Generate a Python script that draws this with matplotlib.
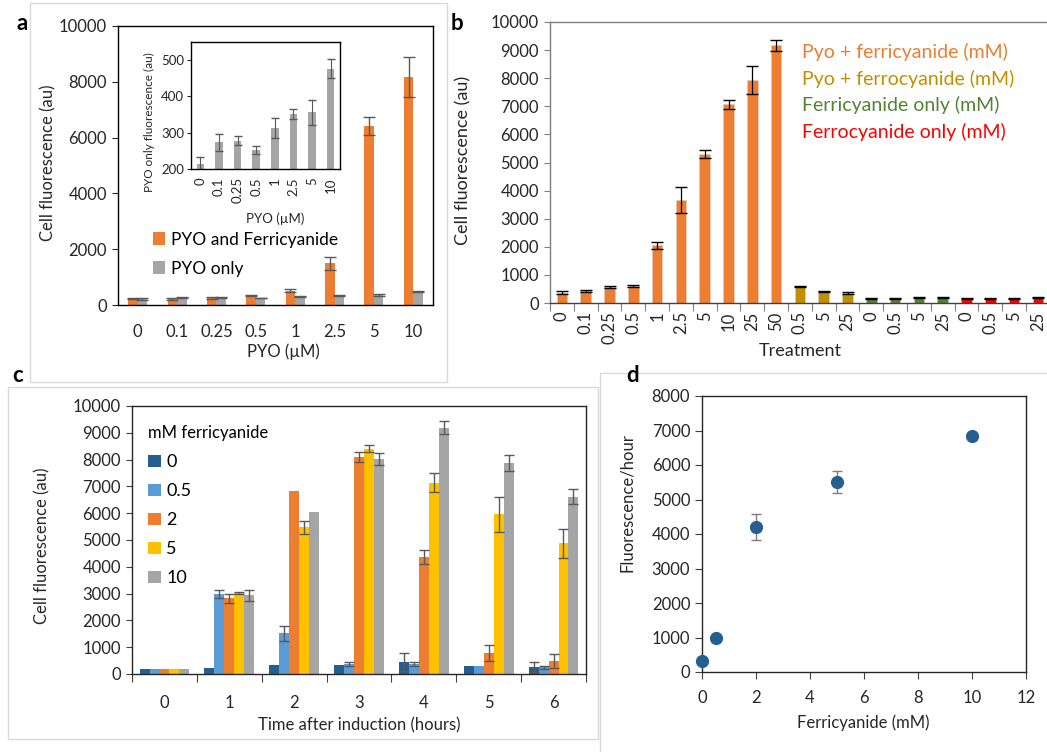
import numpy as np
import matplotlib
matplotlib.use("Agg")
import matplotlib.pyplot as plt
from matplotlib.patches import Rectangle

plt.rcParams['font.family'] = ['Lato', 'DejaVu Sans']

# ---------------- data ----------------
# (a) PYO dose response
pyo_labels = ['0', '0.1', '0.25', '0.5', '1', '2.5', '5', '10']
pyo_ferri = [230, 220, 240, 330, 510, 1490, 6420, 8160]
pyo_ferri_err = [20, 30, 40, 20, 60, 220, 320, 720]
pyo_only = [215, 273, 278, 252, 312, 350, 355, 475]
pyo_only_err = [18, 23, 13, 10, 27, 14, 34, 26]

# (b) treatments
treat_labels = ['0', '0.1', '0.25', '0.5', '1', '2.5', '5', '10', '25', '50',
                '0.5', '5', '25',
                '0', '0.5', '5', '25',
                '0', '0.5', '5', '25']
treat_group = ['ferri'] * 10 + ['ferro'] * 3 + ['ferri_only'] * 4 + ['ferro_only'] * 4
treat_vals = [360, 440, 570, 615, 2050, 3670, 5310, 7070, 7940, 9170,
              590, 400, 355,
              165, 165, 210, 200,
              165, 165, 165, 200]
treat_err = [50, 40, 40, 40, 120, 450, 150, 150, 500, 190,
             30, 10, 30,
             20, 15, 15, 20,
             20, 15, 15, 20]
treat_names = {'ferri': 'Pyo + ferricyanide (mM)',
               'ferro': 'Pyo + ferrocyanide (mM)',
               'ferri_only': 'Ferricyanide only (mM)',
               'ferro_only': 'Ferrocyanide only (mM)'}
treat_colors = {'ferri': '#ED7D31', 'ferro': '#BF9000',
                'ferri_only': '#548235', 'ferro_only': '#FF0000'}

# (c) time course
hours = ['0', '1', '2', '3', '4', '5', '6']
ferri_conc = ['0', '0.5', '2', '5', '10']
time_vals = {
    '0':   [200, 236, 335, 335, 435, 310, 275],
    '0.5': [200, 2970, 1515, 360, 360, 310, 250],
    '2':   [200, 2830, 6820, 8100, 4350, 770, 485],
    '5':   [200, 3020, 5470, 8410, 7140, 5960, 4870],
    '10':  [200, 2930, 6060, 8025, 9190, 7880, 6620],
}
time_err = {
    '0':   [0, 0, 0, 0, 340, 0, 190],
    '0.5': [0, 150, 290, 80, 80, 0, 60],
    '2':   [0, 170, 0, 200, 260, 300, 275],
    '5':   [0, 30, 240, 140, 350, 660, 550],
    '10':  [0, 190, 0, 230, 250, 310, 290],
}
conc_colors = ['#255E91', '#5B9BD5', '#ED7D31', '#FFC000', '#A5A5A5']

# (d) rate vs ferricyanide
ferri_mM = [0, 0.5, 2, 5, 10]
rate = [330, 990, 4200, 5520, 6830]
rate_err = [0, 0, 385, 320, 0]

# ---------------- figure ----------------
W, H = 1047, 752
fig = plt.figure(figsize=(W / 100, H / 100), dpi=100)
fig.patch.set_facecolor('white')

TXT = '#262626'


def px_axes(x0, y0, x1, y1):
    return fig.add_axes([x0 / W, 1 - y1 / H, (x1 - x0) / W, (y1 - y0) / H])


def ftext(x, y, s, **kw):
    return fig.text(x / W, 1 - y / H, s, **kw)


def frame(x0, y0, x1, y1):
    fig.add_artist(Rectangle((x0 / W, 1 - y1 / H), (x1 - x0) / W, (y1 - y0) / H,
                             transform=fig.transFigure, fill=False,
                             edgecolor='#D9D9D9', lw=1.0))


def style_spines(ax, color, lw=1.0):
    for s in ax.spines.values():
        s.set_color(color)
        s.set_linewidth(lw)


# panel frames
frame(30, 3, 447, 382)
frame(8, 387, 598, 739)
frame(600, 373, 1060, 770)

# ---------- (a) ----------
axa = px_axes(118, 26, 433, 305)
xa = np.arange(len(pyo_labels))
bw = 0.24
axa.bar(xa - bw / 2, pyo_ferri, bw, color='#ED7D31', label='PYO and Ferricyanide')
axa.bar(xa + bw / 2, pyo_only, bw, color='#A5A5A5', label='PYO only')
axa.errorbar(xa - bw / 2, pyo_ferri, yerr=pyo_ferri_err, fmt='none',
             ecolor='#595959', elinewidth=1, capsize=4)
axa.errorbar(xa + bw / 2, pyo_only, yerr=pyo_only_err, fmt='none',
             ecolor='#595959', elinewidth=1, capsize=4)
axa.set_xlim(-0.5, len(pyo_labels) - 0.5)
axa.set_ylim(0, 10000)
axa.set_yticks(np.arange(0, 10001, 2000))
axa.set_xticks(xa, pyo_labels)
axa.tick_params(axis='x', length=0, pad=14, labelsize=12, colors=TXT)
axa.tick_params(axis='y', length=4, direction='out', labelsize=12, colors=TXT, pad=4)
style_spines(axa, '#000000')
axa.legend(loc='upper left', bbox_to_anchor=(0.088, 0.288), frameon=False,
           fontsize=12.5, handlelength=0.7, handleheight=0.7,
           handletextpad=0.35, labelspacing=0.75, borderaxespad=0)
ftext(48, 163, 'Cell fluorescence (au)', rotation=90, ha='center', va='center',
      fontsize=12, color=TXT)
ftext(283, 352, 'PYO (µM)', ha='center', va='center', fontsize=12, color=TXT)
ftext(22, 23, 'a', ha='center', va='center', fontsize=16, fontweight='bold')

# inset
axi = px_axes(191, 42, 340, 169)
axi.bar(xa, pyo_only, 0.4, color='#A5A5A5')
axi.errorbar(xa, pyo_only, yerr=pyo_only_err, fmt='none', ecolor='#595959',
             elinewidth=0.8, capsize=3)
axi.set_xlim(-0.5, len(pyo_labels) - 0.5)
axi.set_ylim(200, 548)
axi.set_yticks([200, 300, 400, 500])
axi.set_xticks(xa, pyo_labels, rotation=90)
axi.tick_params(axis='x', length=0, pad=6, labelsize=9.5, colors=TXT)
axi.tick_params(axis='y', length=3, labelsize=9.5, colors=TXT, pad=2)
style_spines(axi, '#000000')
ftext(149, 122, 'PYO only fluorescence (au)', rotation=90, ha='center', va='center',
      fontsize=8.5, color=TXT)
ftext(275, 219, 'PYO (µM)', ha='center', va='center', fontsize=9.5, color=TXT)

# ---------- (b) ----------
nb = len(treat_labels)
axb = px_axes(550, 22, 550 + nb * 23.8, 303)
xb = np.arange(nb)
cols_b = [treat_colors[g] for g in treat_group]
axb.bar(xb, treat_vals, 0.45, color=cols_b, edgecolor='#D0D0D0', linewidth=0.4)
axb.errorbar(xb, treat_vals, yerr=treat_err, fmt='none', ecolor='#000000',
             elinewidth=0.9, capsize=4)
axb.set_xlim(-0.5, nb - 0.5)
axb.set_ylim(0, 10000)
axb.set_yticks(np.arange(0, 10001, 1000))
axb.set_xticks(np.arange(-0.5, nb, 1.0))
axb.set_xticklabels([])
axb.set_xticks(xb, treat_labels, minor=True)
axb.tick_params(axis='x', which='major', length=6, color='#7F7F7F')
axb.tick_params(axis='x', which='minor', length=0, pad=6, labelsize=12,
                labelrotation=90, colors=TXT)
axb.tick_params(axis='y', length=4, labelsize=12, colors=TXT, pad=4, color='#7F7F7F')
style_spines(axb, '#7F7F7F')
axb.spines['bottom'].set_color('#404040')
axb.spines['right'].set_visible(False)
for i, g in enumerate(['ferri', 'ferro', 'ferri_only', 'ferro_only']):
    ftext(802, 52 + i * 26.5, treat_names[g], ha='left', va='center',
          fontsize=14, color=treat_colors[g])
ftext(463, 160, 'Cell fluorescence (au)', rotation=90, ha='center', va='center',
      fontsize=13, color=TXT)
ftext(800, 351, 'Treatment', ha='center', va='center', fontsize=13, color=TXT)
ftext(457, 23, 'b', ha='center', va='center', fontsize=16, fontweight='bold')

# ---------- (c) ----------
axc = px_axes(132, 406, 586, 674)
xc = np.arange(len(hours))
cw = 0.153
for i, c in enumerate(ferri_conc):
    xs = xc + (i - 2) * cw
    axc.bar(xs, time_vals[c], cw, color=conc_colors[i], label=c)
    err = np.array(time_err[c])
    m = err > 0
    axc.errorbar(xs[m], np.array(time_vals[c])[m], yerr=err[m], fmt='none',
                 ecolor='#595959', elinewidth=1, capsize=3.5)
axc.set_xlim(-0.5, len(hours) - 0.5)
axc.set_ylim(0, 10000)
axc.set_yticks(np.arange(0, 10001, 1000))
axc.set_xticks(np.arange(-0.5, len(hours), 1.0))
axc.set_xticklabels([])
axc.set_xticks(xc, hours, minor=True)
axc.tick_params(axis='x', which='major', length=6, color='#404040')
axc.tick_params(axis='x', which='minor', length=0, pad=15, labelsize=12, colors=TXT)
axc.tick_params(axis='y', length=4, labelsize=12, colors=TXT, pad=4, color='#404040')
style_spines(axc, '#262626')
axc.legend(title='mM ferricyanide', loc='upper left', bbox_to_anchor=(0.02, 0.955),
           frameon=False, fontsize=13, title_fontsize=12, handlelength=0.7,
           handleheight=0.7, handletextpad=0.3, labelspacing=0.72, borderaxespad=0,
           alignment='left')
ftext(42, 546, 'Cell fluorescence (au)', rotation=90, ha='center', va='center',
      fontsize=12, color=TXT)
ftext(359, 725, 'Time after induction (hours)', ha='center', va='center',
      fontsize=12, color=TXT)
ftext(18, 376, 'c', ha='center', va='center', fontsize=16, fontweight='bold')

# ---------- (d) ----------
axd = px_axes(702, 396, 1026, 672)
axd.errorbar(ferri_mM, rate, yerr=rate_err, fmt='o', color='#255E91',
             ecolor='#7F7F7F', elinewidth=1, capsize=3.5, markersize=8.5, zorder=3,
             clip_on=False)
axd.set_xlim(0, 12)
axd.set_ylim(0, 8000)
axd.set_xticks(np.arange(0, 13, 2))
axd.set_yticks(np.arange(0, 8001, 1000))
axd.tick_params(axis='both', length=5, labelsize=12, colors=TXT, color='#404040')
axd.tick_params(axis='x', pad=8)
style_spines(axd, '#262626')
ftext(627, 503, 'Fluorescence/hour', rotation=90, ha='center', va='center',
      fontsize=12, color=TXT)
ftext(863, 723, 'Ferricyanide (mM)', ha='center', va='center', fontsize=12, color=TXT)
ftext(633, 375, 'd', ha='center', va='center', fontsize=16, fontweight='bold')

fig.savefig('out.png', dpi=100, facecolor='white')
